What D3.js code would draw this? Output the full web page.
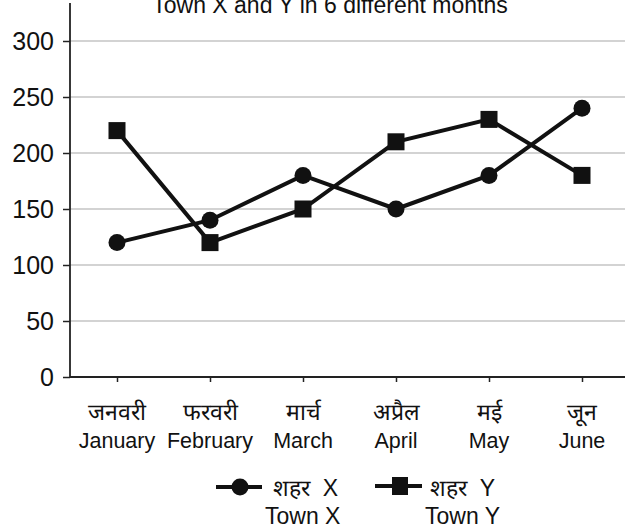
<!DOCTYPE html>
<html>
<meta charset="utf-8">
<head>
    <script src="https://d3js.org/d3.v7.min.js"></script>
    <style>
        body { margin: 0; background: white; }
        text { font-family: "Liberation Sans", Arial, sans-serif; fill: #111; }
    </style>
</head>
<body>
    <script>
        // data
        var monthsHindi = ["जनवरी", "फरवरी", "मार्च", "अप्रैल", "मई", "जून"];
        var monthsEnglish = ["January", "February", "March", "April", "May", "June"];
        var townX = [120, 140, 180, 150, 180, 240];
        var townY = [220, 120, 150, 210, 230, 180];
        var yTicks = [0, 50, 100, 150, 200, 250, 300];

        var width = 625,
            height = 531;

        var svg = d3.select("body").append("svg")
            .attr("width", width)
            .attr("height", height);

        var x = d3.scalePoint()
            .domain(monthsEnglish)
            .range([117, 582]);

        var y = d3.scaleLinear()
            .domain([0, 300])
            .range([377, 41]);

        // title (cut off at the top in the original)
        svg.append("text")
            .attr("x", 330)
            .attr("y", 13)
            .attr("text-anchor", "middle")
            .attr("font-size", 23)
            .text("Town X and Y in 6 different months");

        // grid
        svg.append("g")
            .selectAll("line")
            .data(yTicks.filter(d => d > 0))
            .enter()
            .append("line")
            .attr("x1", 70)
            .attr("x2", width)
            .attr("y1", d => y(d))
            .attr("y2", d => y(d))
            .attr("stroke", "#c4c4c4")
            .attr("stroke-width", 1.3);

        // y axis
        var yAxis = svg.append("g")
            .attr("transform", "translate(70,0)")
            .call(d3.axisLeft(y).tickValues(yTicks).tickSize(7).tickPadding(9));
        yAxis.select(".domain").remove();
        yAxis.selectAll("line").attr("stroke", "#222").attr("stroke-width", 1.5);
        yAxis.selectAll("text")
            .attr("font-size", 25)
            .attr("fill", "#111")
            .attr("font-family", "Liberation Sans, Arial, sans-serif");

        svg.append("line")
            .attr("x1", 70).attr("x2", 70)
            .attr("y1", 3).attr("y2", 378)
            .attr("stroke", "#222")
            .attr("stroke-width", 1.8);

        // x axis
        var xAxis = svg.append("g")
            .attr("transform", "translate(0,377)")
            .call(d3.axisBottom(x).tickSize(5).tickFormat(""));
        xAxis.select(".domain")
            .attr("d", "M70,0H" + width)
            .attr("stroke", "#222")
            .attr("stroke-width", 1.8);
        xAxis.selectAll(".tick line").attr("stroke", "#222").attr("stroke-width", 1.5);

        var labels = svg.append("g")
            .selectAll("g")
            .data(monthsEnglish)
            .enter()
            .append("g")
            .attr("transform", d => "translate(" + x(d) + ",0)");

        labels.append("text")
            .attr("y", 420)
            .attr("text-anchor", "middle")
            .attr("font-size", 23)
            .attr("font-family", "Noto Sans, sans-serif")
            .text((d, i) => monthsHindi[i]);

        labels.append("text")
            .attr("y", 448)
            .attr("text-anchor", "middle")
            .attr("font-size", 21.5)
            .text(d => d);

        // lines
        var line = d3.line()
            .x((d, i) => x(monthsEnglish[i]))
            .y(d => y(d));

        svg.append("path")
            .attr("d", line(townX))
            .attr("fill", "none")
            .attr("stroke", "#111")
            .attr("stroke-width", 4);

        svg.append("path")
            .attr("d", line(townY))
            .attr("fill", "none")
            .attr("stroke", "#111")
            .attr("stroke-width", 4);

        svg.selectAll("circle.ptx")
            .data(townX)
            .enter()
            .append("circle")
            .attr("class", "ptx")
            .attr("cx", (d, i) => x(monthsEnglish[i]))
            .attr("cy", d => y(d))
            .attr("r", 8.5)
            .attr("fill", "#111");

        svg.selectAll("rect.pty")
            .data(townY)
            .enter()
            .append("rect")
            .attr("class", "pty")
            .attr("x", (d, i) => x(monthsEnglish[i]) - 8.5)
            .attr("y", d => y(d) - 8.5)
            .attr("width", 17)
            .attr("height", 17)
            .attr("fill", "#111");

        // legend
        var legend = svg.append("g");

        legend.append("line")
            .attr("x1", 216).attr("x2", 262)
            .attr("y1", 487).attr("y2", 487)
            .attr("stroke", "#111").attr("stroke-width", 4);
        legend.append("circle")
            .attr("cx", 240).attr("cy", 487).attr("r", 8.5).attr("fill", "#111");
        legend.append("text")
            .attr("x", 273).attr("y", 496)
            .attr("font-size", 23)
            .attr("font-family", "Noto Sans, sans-serif")
            .attr("xml:space", "preserve")
            .text("शहर  X");
        legend.append("text")
            .attr("x", 265).attr("y", 524)
            .attr("font-size", 23)
            .text("Town X");

        legend.append("line")
            .attr("x1", 375).attr("x2", 422)
            .attr("y1", 486).attr("y2", 486)
            .attr("stroke", "#111").attr("stroke-width", 4);
        legend.append("rect")
            .attr("x", 392).attr("y", 477).attr("width", 16).attr("height", 18)
            .attr("fill", "#111");
        legend.append("text")
            .attr("x", 430).attr("y", 496)
            .attr("font-size", 23)
            .attr("font-family", "Noto Sans, sans-serif")
            .attr("xml:space", "preserve")
            .text("शहर  Y");
        legend.append("text")
            .attr("x", 425).attr("y", 524)
            .attr("font-size", 23)
            .text("Town Y");

    </script>
</body>
</html>
